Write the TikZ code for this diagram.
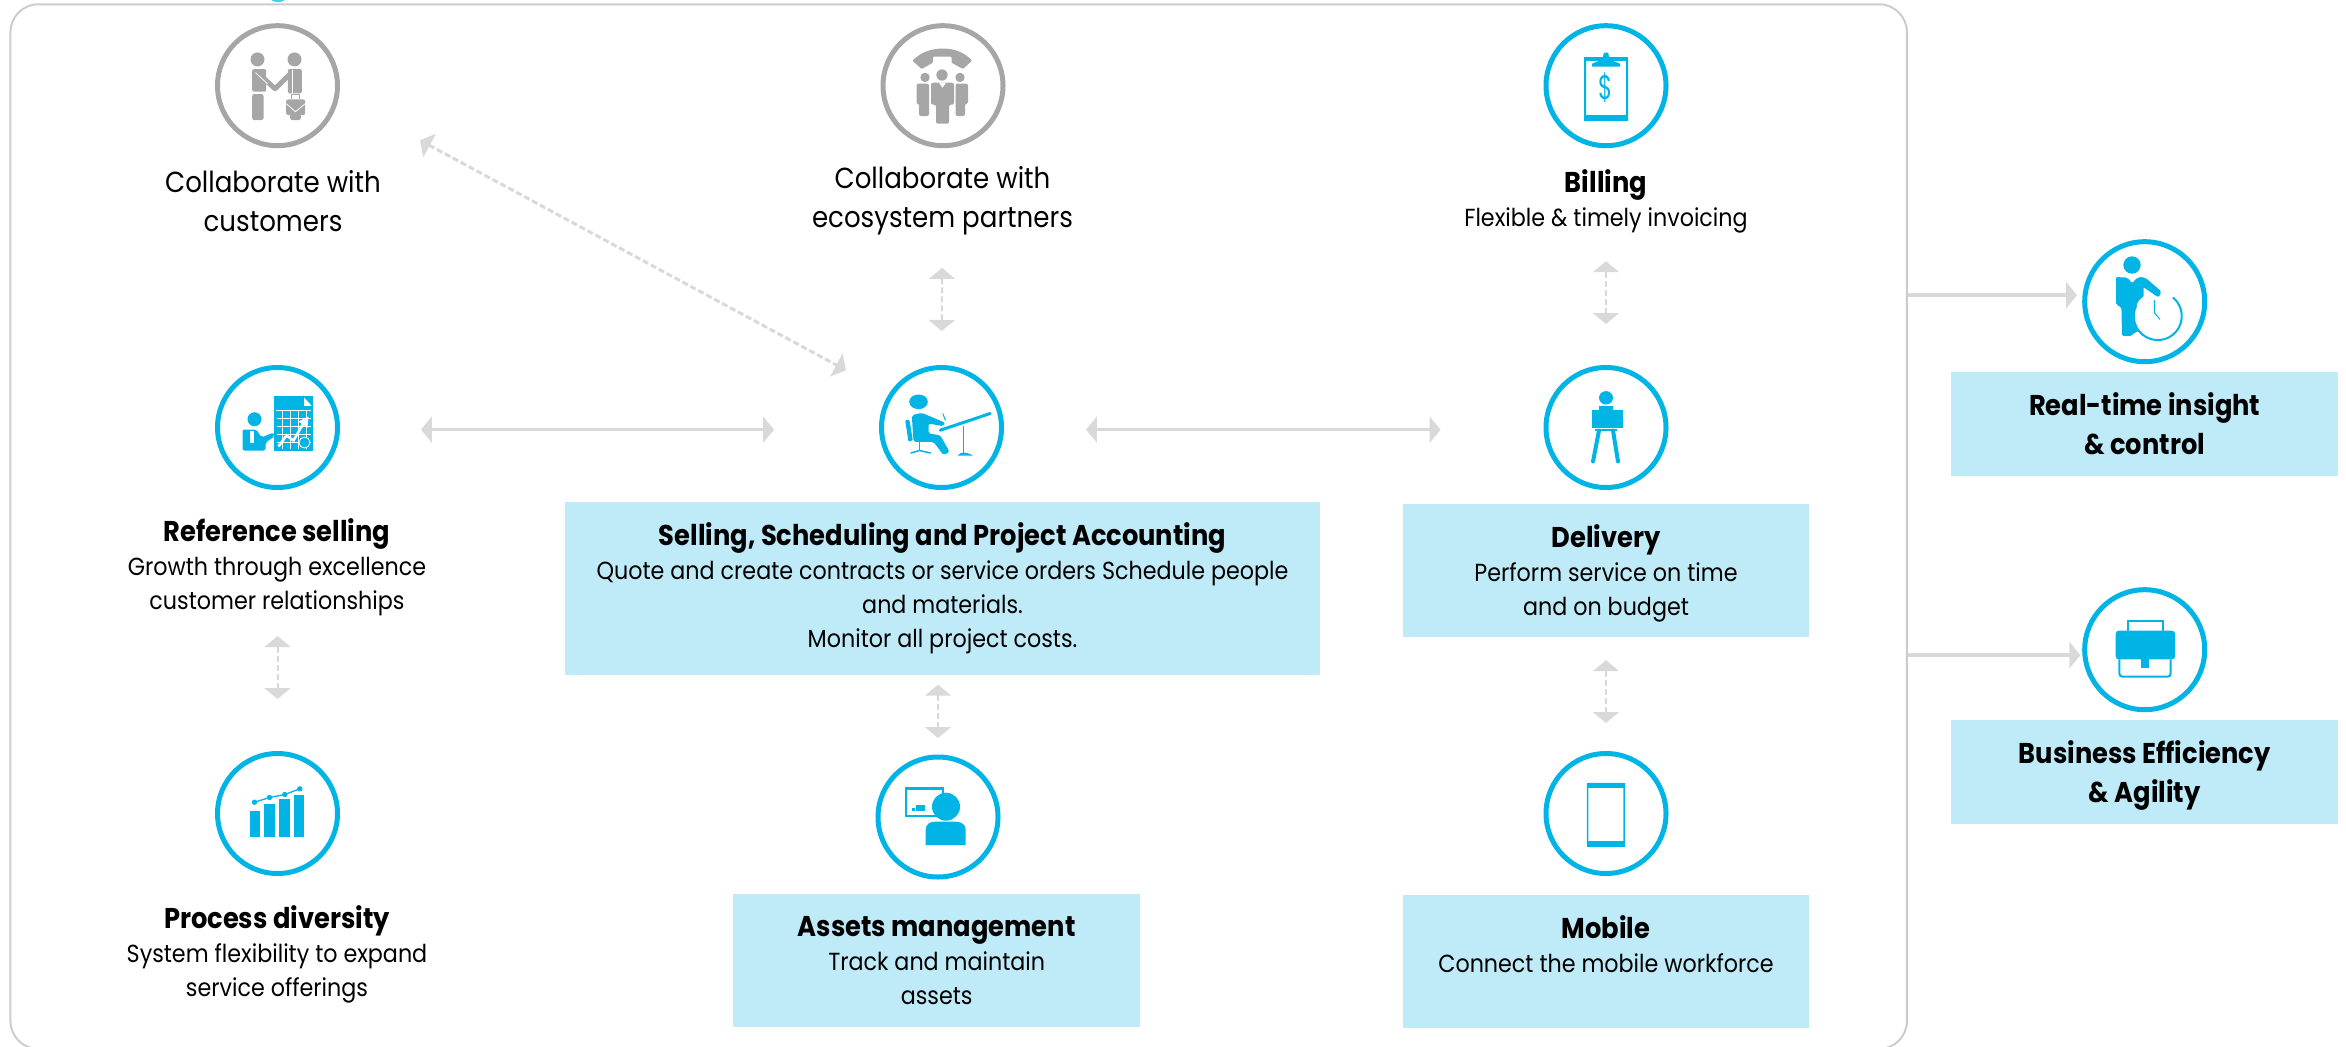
\documentclass[tikz,border=0pt]{standalone}
\usepackage{fontspec}
\usepackage{xcolor}
\usetikzlibrary{arrows.meta}
\setmainfont[FakeStretch=0.9]{Poppins}
\definecolor{iconblue}{HTML}{00B4E6}
\definecolor{icongray}{HTML}{A6A6A6}
\definecolor{boxblue}{HTML}{BFEAF7}
\definecolor{linkgray}{HTML}{D9D9D9}
\definecolor{framegray}{HTML}{CCCCCC}
\tikzstyle{ring} = [circle, draw=iconblue, line width=5pt, minimum size=120pt, inner sep=0pt]
\tikzstyle{grayring} = [ring, draw=icongray]
\tikzstyle{infobox} = [rectangle, fill=boxblue, inner sep=0pt, align=center, font=\fontsize{24.7}{34}\selectfont]
\tikzstyle{infotext} = [align=center, font=\fontsize{24.7}{34}\selectfont]
\tikzstyle{link} = [<->, >={Triangle[length=11pt,width=26pt]}, draw=linkgray, line width=3.5pt]
\tikzstyle{dashlink} = [link, line width=2pt, dash pattern=on 6pt off 3pt]
\newcommand{\headline}[1]{{\fontsize{28.6}{36}\selectfont\bfseries #1}}
\begin{document}
\begin{tikzpicture}[x=1pt,y=-1pt]
  \useasboundingbox (0,0) rectangle (2346,1047);
  \node[rectangle, draw=framegray, line width=2pt, rounded corners=28pt, minimum width=1896.5pt, minimum height=1044.7pt] (frame) at (958.7,526.6) {};
  \fill[iconblue!70] (278,-1) ellipse (7 and 3);

  \node[grayring] (customers) at (277.5,85.7) {};
  \node[grayring] (partners) [right of=customers, node distance=665.5pt] {};
  \node[ring] (billing) [right of=partners, node distance=663pt] {};
  \node[ring] (reference) [below of=customers, node distance=341.8pt] {};
  \node[ring] (selling) [right of=reference, node distance=664pt] {};
  \node[ring] (delivery) [below of=billing, node distance=341.8pt] {};
  \node[ring] (process) [below of=reference, node distance=386pt] {};
  \node[ring] (assets) at (938,817) {};
  \node[ring] (mobile) [below of=delivery, node distance=386pt] {};
  \node[ring] (realtime) at (2144.7,301.7) {};
  \node[ring] (business) [below of=realtime, node distance=348pt] {};

  \node[infotext, font=\fontsize{29}{39}\selectfont] (L_customers) at (273,201) {Collaborate with\\customers};
  \node[infotext, font=\fontsize{29}{39}\selectfont] (L_partners) at (942.5,201) {Collaborate with\\ecosystem partners};
  \node[infotext] (L_billing) at (1606,201) {\headline{Billing}\\Flexible \& timely invoicing};
  \node[infotext] (L_reference) at (277,567) {\headline{Reference selling}\\Growth through excellence\\customer relationships};
  \node[infotext] (L_process) at (277,954) {\headline{Process diversity}\\System flexibility to expand\\service offerings};

  \node[infobox, minimum width=755pt, minimum height=173pt] (B_selling) at (942.5,588) {\headline{Selling, Scheduling and Project Accounting}\\Quote and create contracts or service orders Schedule people\\and materials.\\Monitor all project costs.};
  \node[infobox, minimum width=406pt, minimum height=133pt] (B_delivery) [below of=delivery, node distance=143pt] {\headline{\rule{0pt}{28pt}Delivery}\\Perform service on time\\and on budget};
  \node[infobox, minimum width=407pt, minimum height=133pt] (B_assets) at (936.7,960.3) {\headline{Assets management}\\Track and maintain\\assets};
  \node[infobox, minimum width=406pt, minimum height=133pt] (B_mobile) [below of=mobile, node distance=147.5pt] {\headline{Mobile}\\Connect the mobile workforce\\~};
  \node[infobox, minimum width=387pt, minimum height=104pt, font=\fontsize{28.6}{39}\selectfont\bfseries] (B_realtime) [below of=realtime, node distance=122.2pt] {Real-time insight\\\& control};
  \node[infobox, minimum width=387pt, minimum height=104pt, font=\fontsize{28.6}{39}\selectfont\bfseries] (B_business) [below of=business, node distance=122.3pt] {\rule{0pt}{30pt}Business Efficiency\\\& Agility};

  \path (reference.-2) edge[link, shorten <=81pt, shorten >=105pt] (selling.182);
  \path (selling.-2) edge[link, shorten <=82pt, shorten >=103pt] (delivery.182);
  \path (customers.-10) edge[dashlink, line width=3pt, shorten <=92pt, shorten >=49pt] (selling.147);
  \path (partners.south) edge[dashlink, shorten <=119.7pt, shorten >=34pt] (selling.north);
  \path (billing.south) edge[dashlink, shorten <=113pt, shorten >=41pt] (delivery.north);
  \path (reference.south) edge[dashlink, shorten <=146pt, shorten >=52pt] (process.north);
  \path (assets.north |- B_selling.south) edge[dashlink, shorten <=10pt, shorten >=16.5pt] (assets.north);
  \path (B_delivery.south) edge[dashlink, shorten <=23pt, shorten >=28pt] (mobile.north);
  \path (frame.east |- realtime.174) edge[link, <-, shorten >=5.5pt, -{Triangle[length=11pt,width=26pt]}] (realtime.174);
  \path (frame.east |- business.185) edge[link, shorten >=2pt, -{Triangle[length=11pt,width=26pt]}] (business.185);

  % handshake
  \begin{scope}[shift={(customers)}, fill=icongray]
    \fill (-20,-26.3) circle (7);
    \fill (17,-26.3) circle (7);
    \fill[rounded corners=2pt] (-25.3,-16.7) rectangle (-11.3,6);
    \fill[rounded corners=2pt] (-25.3,8.3) rectangle (-14,34.3);
    \fill[rounded corners=2pt] (10.3,-16.7) rectangle (24.3,7.7);
    \fill[rounded corners=2pt] (12.7,27.7) rectangle (23.3,34.3);
    \draw[icongray, line width=5pt, line join=round] (-20,-13) -- (-2.5,3) -- (14,-13);
    \draw[white, line width=0.8pt] (-22,-13) -- (-10,-2);
    \draw[white, line width=0.8pt] (15,-16) -- (15,10);
    \fill[rounded corners=2pt] (8.7,13.7) rectangle (27.7,29.3);
    \draw[icongray, line width=1pt] (14,13.7) -- (14,9) -- (22,9) -- (22,13.7);
    \draw[white, line width=0.8pt] (8.7,18) -- (18,26) -- (27.7,18);
  \end{scope}

  % telephone and people
  \begin{scope}[shift={(partners)}, fill=icongray]
    \fill[rounded corners=1pt] (-30.5,-25) .. controls (-15,-41) and (15,-41) .. (29,-25) -- (20,-16.7) -- (8.5,-23) -- (8.5,-29) -- (-10,-29) -- (-10,-23) -- (-21.5,-16.7) -- cycle;
    \fill (-18,-8.3) circle (4.7);
    \fill (-1,-10.7) circle (5.7);
    \fill (17,-8.3) circle (4.7);
    \fill[rounded corners=2pt] (-12,-3) -- (11,-3) -- (11,19) -- (6,19) -- (6,38) -- (-7,38) -- (-7,19) -- (-12,19) -- cycle;
    \fill[rounded corners=2pt] (-26.5,-2) -- (-14,-2) -- (-14,30.3) -- (-24,30.3) -- (-24,18) -- (-26.5,18) -- cycle;
    \fill[rounded corners=2pt] (12.5,-2) -- (25,-2) -- (25,18) -- (22,18) -- (22,30.3) -- (12.5,30.3) -- cycle;
    \fill[white] (-4,-3) -- (-0.5,2) -- (3,-3) -- cycle;
  \end{scope}

  % clipboard
  \begin{scope}[shift={(billing)}, fill=iconblue]
    \draw[iconblue, line width=2pt, rounded corners=1pt] (-21,-27) rectangle (21,34);
    \fill (-22,-28.5) rectangle (22,-25);
    \fill (-22,29) rectangle (22,35);
    \fill (-14,-19) -- (14,-19) -- (14,-22) -- (4,-26) -- (2,-33) -- (-2,-33) -- (-4,-26) -- (-14,-22) -- cycle;
    \node[text=iconblue, font=\fontsize{34}{34}\selectfont, xscale=0.75] (S_billing) at (0,2) {\$};
  \end{scope}

  % person with chart
  \begin{scope}[shift={(reference)}, fill=iconblue]
    \fill (-4,-31.3) rectangle (35.3,23.3);
    \fill[white] (26,-31.3) -- (35.3,-21) -- (26,-21) -- cycle;
    \draw[iconblue, line width=0.6pt] (26,-31.3) -- (35.3,-21) -- (26,-21) -- cycle;
    \draw[white, line width=0.5pt] (-2,-17) -- (33.5,-17) (-1,-9) -- (33.5,-9) (-1,-1) -- (33.5,-1) (-1,7) -- (33.5,7) (-1,15) -- (33.5,15);
    \draw[white, line width=0.5pt] (5,-17) -- (5,21.5) (13,-17) -- (13,21.5) (21,-17) -- (21,21.5) (29,-17) -- (29,21.5);
    \draw[white, line width=2.5pt] (1,19) -- (9,8) -- (16,13) -- (27,-6);
    \fill[white] (31,-11) -- (21,-6) -- (30,0) -- cycle;
    \draw[white, fill=iconblue, line width=0.8pt] (27,15) circle (5.5);
    \fill (-23,-8.3) circle (7);
    \fill[rounded corners=2pt] (-35,2) -- (-21,2) -- (-16,10) -- (-4,5) -- (-3,9) -- (-12,15) -- (-12,23) -- (-35,23) -- cycle;
    \fill[white] (-28,3) rectangle (-24,15);
  \end{scope}

  % person at drawing table
  \begin{scope}[shift={(selling)}, fill=iconblue]
    \fill (-23,-25.7) ellipse (9.3 and 7.3);
    \fill[rounded corners=2pt] (-29.7,-12.3) -- (-19.7,-14.7) -- (3.7,-4.7) -- (2,-1.3) -- (-13,-4) -- (-13,6) -- (-1.3,7.7) -- (8,24.3) -- (2,27.7) -- (-8,14.3) -- (-28,14.3) -- cycle;
    \fill[rounded corners=1pt] (-36.3,-7.3) -- (-32,-7.3) -- (-28.7,12.7) -- (-33,14.3) -- cycle;
    \draw[iconblue, line width=1.5pt] (-22,14) -- (-22,23);
    \draw[iconblue, line width=1.5pt, line cap=round] (-30.5,25.5) -- (-22,23) -- (-11,25.5);
    \draw[iconblue, line width=1pt] (1.3,-14) -- (4,-7);
    \draw[iconblue, line width=3pt, line cap=round] (-1.3,2.7) -- (48.7,-14);
    \draw[iconblue, line width=1.5pt] (22,-2) -- (22,26);
    \fill (16,28) .. controls (20,24) and (24,24) .. (31.3,28) -- cycle;
  \end{scope}

  % person carrying box
  \begin{scope}[shift={(delivery)}, fill=iconblue]
    \fill (0,-29.7) ellipse (7 and 6.7);
    \fill (-7.5,-21.3) rectangle (7,-17.5);
    \fill (-14.5,-17.3) rectangle (17,0);
    \draw[iconblue, line width=4pt, line cap=round] (-7,3) -- (-13,34);
    \draw[iconblue, line width=4pt, line cap=round] (7,3) -- (12,34);
    \fill (-11,1) rectangle (11,3.5);
  \end{scope}

  % bar chart
  \begin{scope}[shift={(process)}, fill=iconblue]
    \fill (-27.3,-2.3) rectangle (-17.3,23.3);
    \fill (-13.3,-9.3) rectangle (-2.7,23.3);
    \fill (1.7,-14.3) rectangle (12.7,23.3);
    \fill (16.7,-18.3) rectangle (26.7,23.3);
    \draw[iconblue, line width=1.3pt] (-23,-11.3) -- (-8,-16) -- (7.3,-19) -- (22.3,-24.7);
    \fill (-23,-11.3) circle (2.7);
    \fill (-8,-16) circle (2.7);
    \fill (7.3,-19) circle (2.7);
    \fill (22.3,-24.7) circle (2.7);
  \end{scope}

  % person at screen
  \begin{scope}[shift={(assets)}, fill=iconblue]
    \draw[iconblue, line width=2.5pt] (-32,-28.5) rectangle (5,-0.8);
    \fill (-22.5,-12) rectangle (-13,-6.5);
    \fill (-25.7,-9.5) rectangle (-23,-6.5);
    \fill (8,-10.3) circle (14);
    \fill (-12.3,28) -- (-12.3,13) .. controls (-12.3,7) and (-8,4.7) .. (-3,4.7) -- (18,4.7) .. controls (24,4.7) and (27.7,8) .. (27.7,13) -- (27.7,28) -- cycle;
  \end{scope}

  % phone
  \begin{scope}[shift={(mobile)}, fill=iconblue]
    \draw[iconblue, line width=1.5pt, rounded corners=1pt] (-18.5,-30) rectangle (18,32);
    \fill (-19.2,-31) rectangle (18.7,-26);
    \fill (-19.2,27) rectangle (18.7,33);
  \end{scope}

  % person with clock
  \begin{scope}[shift={(realtime)}, fill=iconblue]
    \fill (-12.7,-36.7) circle (8.7);
    \fill[rounded corners=2pt] (-28.7,-25) -- (-26,-24.3) -- (-17.3,-24.3) -- (-12.7,-18.3) -- (-7.3,-24.3) -- (-1,-24.3) -- (-1,-5) -- (-2,30) -- (-10,30) -- (-12,34) -- (-22.7,34.3) -- (-23.3,5) -- (-28.7,3.3) -- cycle;
    \fill[white] (12.7,14.3) circle (24);
    \fill[rounded corners=2pt] (-7,-24.3) -- (0.3,-24.3) -- (17,-10) -- (13.7,-4.3) -- (-2,-15) -- (-5,-5) -- (-11.3,12) -- (-12,-5) -- cycle;
    \draw[iconblue, line width=2pt, line cap=round] (28.5,-4) arc[start angle=50, end angle=-205, radius=24pt];
    \draw[iconblue, line width=1pt] (9.7,-1.7) -- (9.7,11) -- (15.3,17.7);
  \end{scope}

  % briefcase
  \begin{scope}[shift={(business)}, fill=iconblue]
    \draw[iconblue, line width=2pt] (-17,-19) -- (-17,-29) -- (18.3,-29) -- (18.3,-19);
    \fill[rounded corners=3pt] (-29,-19) rectangle (30.3,9.7);
    \draw[iconblue, line width=2pt, rounded corners=3pt] (-25.3,9.7) -- (-25.3,27) -- (26,27) -- (26,9.7);
    \fill (-3.7,9) rectangle (4.3,18);
  \end{scope}
\end{tikzpicture}
\end{document}
